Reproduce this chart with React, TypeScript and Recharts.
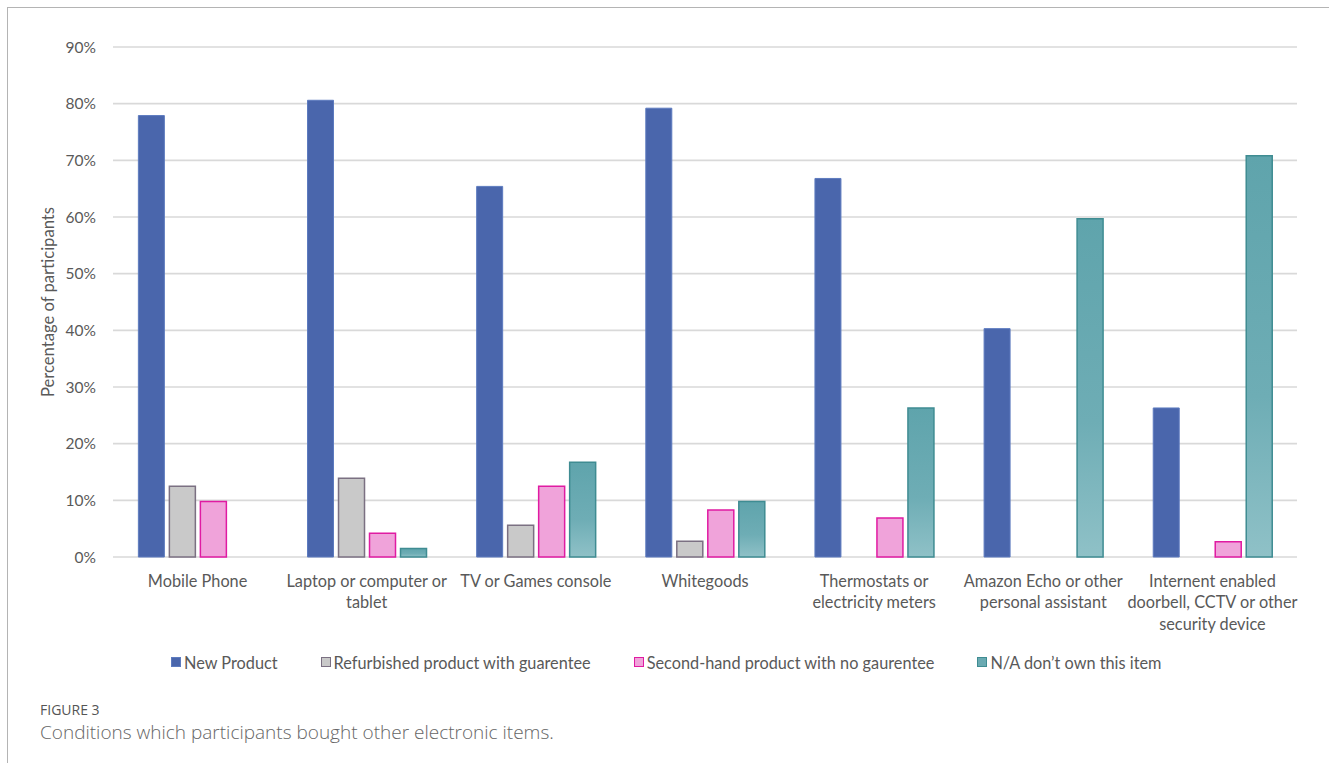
import React from 'react';
import { BarChart, Bar, XAxis, YAxis, CartesianGrid } from 'recharts';

// Purchase conditions per electronic item (percentage of participants)
const categories = [
  'Mobile Phone',
  'Laptop or computer or tablet',
  'TV or Games console',
  'Whitegoods',
  'Thermostats or electricity meters',
  'Amazon Echo or other personal assistant',
  'Internent enabled doorbell, CCTV or other security device',
];
const newProduct = [77.9, 80.6, 65.4, 79.2, 66.8, 40.3, 26.3];
const refurbished = [12.5, 13.9, 5.6, 2.8, 0, 0, 0];
const secondHand = [9.8, 4.2, 12.5, 8.3, 6.9, 0, 2.7];
const notOwned = [0, 1.5, 16.7, 9.8, 26.3, 59.7, 70.8];
const yTicks = [0, 10, 20, 30, 40, 50, 60, 70, 80, 90];

const seriesNames = [
  'New Product',
  'Refurbished product with guarentee',
  'Second-hand product with no gaurentee',
  'N/A don\u2019t own this item',
];

const FONT = 'Lato, "Open Sans", sans-serif';
const TEXT = '#595959';
const LABEL_SIZE = 16.3;

const series = [
  { key: 'newProduct', name: seriesNames[0], fill: '#4a66ac', stroke: '#5d7bbf', sw: 1, swatch: '#4a66ac' },
  { key: 'refurbished', name: seriesNames[1], fill: '#c9c9c9', stroke: '#7b7082', sw: 1.5, swatch: '#c9c9c9' },
  { key: 'secondHand', name: seriesNames[2], fill: '#f0a3da', stroke: '#e01ba2', sw: 1.5, swatch: '#f0a3da' },
  { key: 'notOwned', name: seriesNames[3], fill: 'url(#naFill)', stroke: '#3f8c92', sw: 1.5, swatch: '#6aaab2' },
];

const data = categories.map((name, i) => ({
  name,
  newProduct: newProduct[i],
  refurbished: refurbished[i],
  secondHand: secondHand[i],
  notOwned: notOwned[i],
}));

let measureCtx: CanvasRenderingContext2D | null = null;
function textWidth(s: string): number {
  if (!measureCtx) {
    const c = document.createElement('canvas');
    measureCtx = c.getContext('2d');
  }
  if (!measureCtx) return s.length * 8;
  measureCtx.font = `${LABEL_SIZE}px ${FONT}`;
  return measureCtx.measureText(s).width;
}

function wrap(label: string, maxWidth: number): string[] {
  const words = label.split(' ');
  const lines: string[] = [];
  let cur = '';
  for (const w of words) {
    const next = cur ? cur + ' ' + w : w;
    if (cur && textWidth(next) > maxWidth) {
      lines.push(cur);
      cur = w;
    } else {
      cur = next;
    }
  }
  if (cur) lines.push(cur);
  return lines;
}

const CategoryTick = (props: any) => {
  const { x, y, payload } = props;
  const lines = wrap(String(payload.value), 176);
  return (
    <g>
      {lines.map((ln, i) => (
        <text
          key={i}
          x={x}
          y={y + 23 + i * 21.5}
          textAnchor="middle"
          dominantBaseline="central"
          fontFamily={FONT}
          fontSize={LABEL_SIZE}
          fill={TEXT}
        >
          {ln}
        </text>
      ))}
    </g>
  );
};

const YTitle = (props: any) => {
  const { viewBox } = props;
  const cx = 48;
  const cy = viewBox.y + viewBox.height / 2;
  return (
    <text
      x={cx}
      y={cy}
      transform={`rotate(-90, ${cx}, ${cy})`}
      textAnchor="middle"
      dominantBaseline="central"
      fontFamily={FONT}
      fontSize={16.6}
      fill={TEXT}
    >
      Percentage of participants
    </text>
  );
};

export default function App() {
  return (
    <div
      style={{
        position: 'fixed',
        left: 0,
        top: 0,
        width: 1329,
        height: 763,
        background: '#fff',
        overflow: 'hidden',
      }}
    >
      <div
        style={{
          position: 'absolute',
          left: 7,
          top: 7,
          right: 0,
          bottom: 0,
          borderTop: '1px solid #b4b4b4',
          borderLeft: '1px solid #b4b4b4',
        }}
      />
      <div style={{ position: 'absolute', left: 0, top: 0 }}>
        <BarChart
          width={1329}
          height={640}
          data={data}
          margin={{ top: 47, right: 32, left: 53, bottom: 0 }}
          barCategoryGap="15%"
          barGap={5}
        >
          <defs>
            <linearGradient id="naFill" x1="0" y1="0" x2="0" y2="1">
              <stop offset="0%" stopColor="#5fa4ac" />
              <stop offset="60%" stopColor="#6eadb5" />
              <stop offset="100%" stopColor="#8fc1c7" />
            </linearGradient>
          </defs>
          <CartesianGrid vertical={false} stroke="#d9d9d9" strokeWidth={1.6} />
          <XAxis
            dataKey="name"
            axisLine={false}
            tickLine={false}
            tickSize={0}
            tickMargin={0}
            height={83}
            interval={0}
            tick={<CategoryTick />}
          />
          <YAxis
            width={60}
            domain={[0, 90]}
            ticks={yTicks}
            interval={0}
            axisLine={false}
            tickLine={false}
            tickSize={0}
            tickMargin={17}
            tickFormatter={(v: number) => `${v}%`}
            tick={{ fontFamily: FONT, fontSize: 15.5, fill: TEXT }}
            label={<YTitle />}
          />
          {series.map((s) => (
            <Bar
              key={s.key}
              dataKey={s.key}
              name={s.name}
              fill={s.fill}
              stroke={s.stroke}
              strokeWidth={s.sw}
              isAnimationActive={false}
            />
          ))}
        </BarChart>
      </div>
      <div
        style={{
          position: 'absolute',
          left: 171,
          top: 652,
          display: 'flex',
          alignItems: 'center',
          gap: 43,
          fontFamily: FONT,
          fontSize: LABEL_SIZE,
          color: TEXT,
          whiteSpace: 'nowrap',
        }}
      >
        {series.map((s) => (
          <div key={s.key} style={{ display: 'flex', alignItems: 'center', height: 20 }}>
            <span
              style={{
                display: 'inline-block',
                width: 8,
                height: 8,
                background: s.swatch,
                border: `1px solid ${s.stroke}`,
                marginRight: 3,
              }}
            />
            <span>{s.name}</span>
          </div>
        ))}
      </div>
      <div
        style={{
          position: 'absolute',
          left: 40,
          top: 701.5,
          fontFamily: '"Open Sans", sans-serif',
          fontSize: 14,
          color: '#555',
          lineHeight: '15px',
        }}
      >
        FIGURE 3
      </div>
      <div
        style={{
          position: 'absolute',
          left: 40,
          top: 722.5,
          fontFamily: '"Open Sans", sans-serif',
          fontSize: 19,
          color: '#666',
          lineHeight: '19px',
          fontWeight: 300,
        }}
      >
        Conditions which participants bought other electronic items.
      </div>
    </div>
  );
}
